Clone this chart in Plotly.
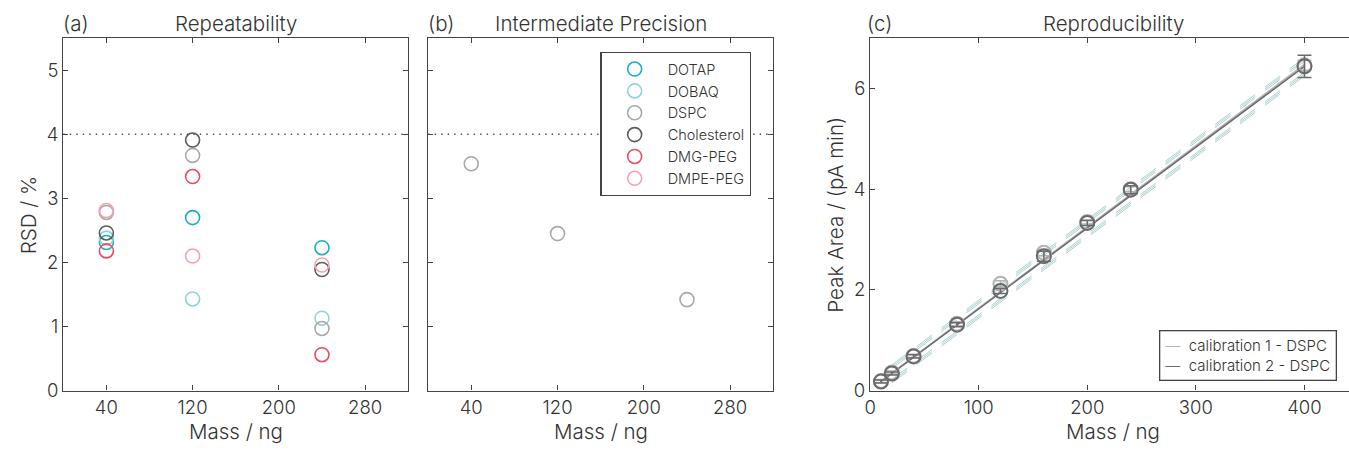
import plotly.graph_objects as go

W, H = 1349, 450

# ---- (a) repeatability: RSD per lipid at three mass levels ----
mass_levels = [40, 120, 240]
lipids = ["DOTAP", "DOBAQ", "DSPC", "Cholesterol", "DMG-PEG", "DMPE-PEG"]
lipid_colors = ["#1aafc2", "#8ed5d8", "#a9a9a9", "#5c5c5c", "#ef4a60", "#f6a2ac"]
rsd_dotap = [2.31, 2.70, 2.23]
rsd_dobaq = [2.38, 1.43, 1.13]
rsd_dspc = [2.78, 3.67, 0.97]
rsd_cholesterol = [2.46, 3.91, 1.89]
rsd_dmg_peg = [2.18, 3.34, 0.56]
rsd_dmpe_peg = [2.81, 2.10, 1.96]
rsd_limit = 4

# ---- (b) intermediate precision: DSPC only ----
ip_mass = [40, 120, 240]
ip_rsd_dspc = [3.54, 2.45, 1.42]

# ---- (c) reproducibility: two DSPC calibrations ----
cal_mass = [10, 20, 40, 80, 120, 160, 200, 240, 400]
cal1_area = [0.19, 0.36, 0.69, 1.33, 2.12, 2.74, 3.35, 4.00, 6.46]
cal1_err = [0.03, 0.03, 0.03, 0.04, 0.06, 0.06, 0.04, 0.05, 0.10]
cal2_area = [0.18, 0.34, 0.68, 1.31, 1.98, 2.67, 3.33, 3.99, 6.44]
cal2_err = [0.03, 0.03, 0.03, 0.04, 0.05, 0.10, 0.05, 0.08, 0.22]
cal_names = ["calibration 1 - DSPC", "calibration 2 - DSPC"]
cal_colors = ["#b3b3b3", "#6a6a6a"]
fit_mass = [10, 400]
fit1_slope, fit1_intercept = 0.01612, 0.03
fit2_slope, fit2_intercept = 0.01605, 0.02
band_mass = [20, 400]
band_upper_offsets = [0.10, 0.135, 0.17]
band_lower_offsets = [-0.12, -0.155, -0.19]

FONT = "Inter"
TXT = "#333333"
AX = "#444444"

series = [rsd_dotap, rsd_dobaq, rsd_dspc, rsd_cholesterol, rsd_dmg_peg, rsd_dmpe_peg]

fig = go.Figure()

for name, color, vals in zip(lipids, lipid_colors, series):
    fig.add_trace(go.Scatter(
        x=mass_levels, y=vals, mode="markers", name=name,
        marker=dict(symbol="circle-open", size=14, color=color, line=dict(width=1.6, color=color)),
        xaxis="x", yaxis="y", showlegend=True,
    ))

fig.add_trace(go.Scatter(
    x=ip_mass, y=ip_rsd_dspc, mode="markers", name="DSPC",
    marker=dict(symbol="circle-open", size=14, color=lipid_colors[2],
                line=dict(width=1.6, color=lipid_colors[2])),
    xaxis="x2", yaxis="y2", showlegend=False,
))

# prediction bands around the calibration fit
for off in band_upper_offsets + band_lower_offsets:
    fig.add_trace(go.Scatter(
        x=band_mass, y=[fit2_slope * m + fit2_intercept + off for m in band_mass],
        mode="lines", line=dict(color="#add0d0", width=1, dash="19px,12px"),
        xaxis="x3", yaxis="y3", showlegend=False, hoverinfo="skip",
    ))

for (slope, icpt), name, color in zip(((fit1_slope, fit1_intercept), (fit2_slope, fit2_intercept)),
                                      cal_names, cal_colors):
    fig.add_trace(go.Scatter(
        x=fit_mass, y=[slope * m + icpt for m in fit_mass],
        mode="lines", name=name, line=dict(color=color, width=1.5),
        xaxis="x3", yaxis="y3", showlegend=False,
    ))
for area, err, color in ((cal1_area, cal1_err, cal_colors[0]), (cal2_area, cal2_err, cal_colors[1])):
    fig.add_trace(go.Scatter(
        x=cal_mass, y=area, mode="markers",
        error_y=dict(type="data", array=err, color=color, thickness=1.5, width=7),
        marker=dict(symbol="circle-open", size=14, color=color, line=dict(width=2, color=color)),
        xaxis="x3", yaxis="y3", showlegend=False,
    ))

tickfont = dict(family=FONT, size=18.5, color=TXT, weight=300)
common = dict(showline=True, linecolor=AX, linewidth=1.3, ticks="inside",
              ticklen=5, tickwidth=1, tickcolor=AX, showgrid=False, zeroline=False,
              tickfont=tickfont)

ydom = [(H - 399.5) / H, (H - 39) / H]
xd_a = [57.5 / W, 404 / W]
xd_b = [424 / W, 770.7 / W]
xd_c = [868 / W, 1.0]

fig.update_layout(
    width=W, height=H, margin=dict(l=0, r=0, t=0, b=0),
    paper_bgcolor="white", plot_bgcolor="white",
    font=dict(family=FONT, color=TXT, weight=300),
    xaxis=dict(domain=xd_a, range=[0, 320], tickvals=[40, 120, 200, 280], anchor="y",
               mirror="ticks", **common),
    yaxis=dict(domain=ydom, range=[0, 5.5], tickvals=[0, 1, 2, 3, 4, 5], anchor="x",
               mirror="ticks", **common),
    xaxis2=dict(domain=xd_b, range=[0, 320], tickvals=[40, 120, 200, 280], anchor="y2",
                mirror="ticks", **common),
    yaxis2=dict(domain=ydom, range=[0, 5.5], tickvals=[0, 1, 2, 3, 4, 5], showticklabels=False,
                anchor="x2", mirror="ticks", **common),
    xaxis3=dict(domain=xd_c, range=[0, 441], tickvals=[0, 100, 200, 300, 400], anchor="y3",
                mirror="ticks", **common),
    yaxis3=dict(domain=ydom, range=[0, 7], tickvals=[0, 2, 4, 6], anchor="x3", mirror=False,
                **common),
    legend=dict(x=597 / W, y=(H - 53) / H, xanchor="left", yanchor="top",
                bgcolor="white", bordercolor=AX, borderwidth=1.3,
                font=dict(family=FONT, size=14.5, color=TXT, weight=300),
                itemwidth=56, tracegroupgap=0),
    showlegend=True,
)

# RSD acceptance limit in (a) and (b)
for xr, yr in (("x", "y"), ("x2", "y2")):
    fig.add_shape(type="line", xref=f"{xr} domain", yref=yr, x0=0, x1=1, y0=rsd_limit, y1=rsd_limit,
                  line=dict(color="#555555", width=1.3, dash="1.5px,5px"), layer="below")

titlefont = dict(family=FONT, size=20.5, color=TXT, weight=300)
ann = []
for label, title, dom, lx in (("(a)", "Repeatability", xd_a, 55),
                              ("(b)", "Intermediate Precision", xd_b, 422),
                              ("(c)", "Reproducibility", xd_c, 863)):
    ann.append(dict(text=label, x=lx / W, y=(H - 24) / H, xref="paper", yref="paper",
                    xanchor="left", yanchor="middle", showarrow=False, font=titlefont))
    cx = (dom[0] + dom[1]) / 2 if label != "(c)" else 1112 / W
    ann.append(dict(text=title, x=cx, y=(H - 24) / H, xref="paper", yref="paper",
                    xanchor="center", yanchor="middle", showarrow=False, font=titlefont))
    ann.append(dict(text="Mass / ng", x=cx, y=(H - 441) / H, xref="paper", yref="paper",
                    xanchor="center", yanchor="middle", showarrow=False, font=titlefont))
ann.append(dict(text="RSD / %", x=22 / W, y=(ydom[0] + ydom[1]) / 2, xref="paper", yref="paper",
                xanchor="center", yanchor="middle", textangle=-90, showarrow=False, font=titlefont))
ann.append(dict(text="Peak Area / (pA min)", x=833 / W, y=(ydom[0] + ydom[1]) / 2, xref="paper",
                yref="paper", xanchor="center", yanchor="middle", textangle=-90, showarrow=False,
                font=titlefont))

# key for the two calibration fits
key_lines = [f"<span style='color:{c}'>\u2014</span>&nbsp;&nbsp;{n}" for n, c in zip(cal_names, cal_colors)]
ann.append(dict(text="<br>".join(key_lines), x=1158 / W, y=(H - 338) / H, xref="paper", yref="paper",
                xanchor="left", yanchor="top", align="left", showarrow=False,
                bgcolor="white", bordercolor=AX, borderwidth=1.3, borderpad=5,
                font=dict(family=FONT, size=15, color=TXT, weight=300)))
fig.update_layout(annotations=ann)

fig.write_html("out.html")
